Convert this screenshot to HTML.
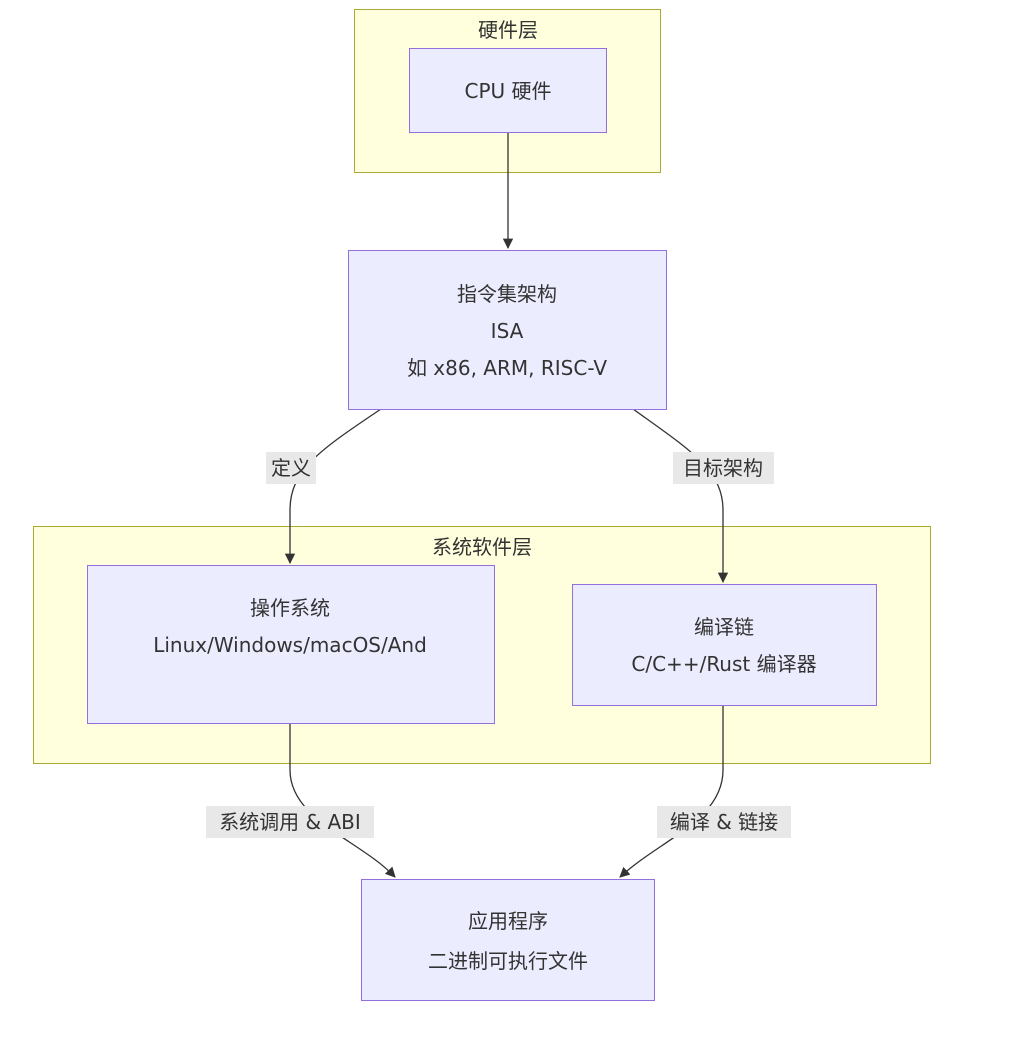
<!DOCTYPE html>
<html><head><meta charset="utf-8"><style>
html,body{margin:0;padding:0;background:#fff;}
svg text{font-family:"DejaVu Sans","Liberation Sans","Noto Sans CJK SC",sans-serif;font-size:20px;fill:#333;text-anchor:middle;dominant-baseline:central;}
</style></head><body>
<svg width="1024" height="1055" viewBox="0 0 1024 1055" xmlns="http://www.w3.org/2000/svg">
<defs><marker id="a" viewBox="0 0 10 10" refX="9" refY="5" markerWidth="8" markerHeight="8" orient="auto"><path d="M0,0L10,5L0,10z" fill="#333"/></marker></defs>
<rect x="354.5" y="9.5" width="306" height="163" fill="#ffffde" stroke="#aaaa33"/>
<text x="508" y="30">硬件层</text>
<rect x="33.5" y="526.5" width="897" height="237" fill="#ffffde" stroke="#aaaa33"/>
<text x="482" y="547">系统软件层</text>

<g fill="none" stroke="#333" stroke-width="1.3">
<path d="M508,132 L508,248" marker-end="url(#a)"/>
<path d="M381,409 C320,450 290,470 290,510 L290,563" marker-end="url(#a)"/>
<path d="M633,409 C690,450 723,470 723,510 L723,582" marker-end="url(#a)"/>
<path d="M290,723 L290,770 C290,820 360,840 395,877" marker-end="url(#a)"/>
<path d="M723,705 L723,770 C723,820 660,840 620,877" marker-end="url(#a)"/>
</g>

<rect x="409.5" y="48.5" width="197" height="84" fill="#ececff" stroke="#9370db"/>
<text x="508" y="91">CPU 硬件</text>
<rect x="348.5" y="250.5" width="318" height="159" fill="#ececff" stroke="#9370db"/>
<text x="507" y="294">指令集架构</text>
<text x="507" y="331">ISA</text>
<text x="507" y="368">如 x86, ARM, RISC-V</text>
<rect x="87.5" y="565.5" width="407" height="158" fill="#ececff" stroke="#9370db"/>
<text x="290" y="608">操作系统</text>
<text x="290" y="645">Linux/Windows/macOS/And</text>
<rect x="572.5" y="584.5" width="304" height="121" fill="#ececff" stroke="#9370db"/>
<text x="724" y="627">编译链</text>
<text x="724" y="664">C/C++/Rust 编译器</text>
<rect x="361.5" y="879.5" width="293" height="121" fill="#ececff" stroke="#9370db"/>
<text x="508" y="921">应用程序</text>
<text x="508" y="961">二进制可执行文件</text>

<rect x="266" y="452" width="50" height="32" fill="#e8e8e8"/>
<text x="291" y="468">定义</text>
<rect x="673" y="452" width="101" height="32" fill="#e8e8e8"/>
<text x="723" y="468">目标架构</text>
<rect x="206" y="806" width="168" height="32" fill="#e8e8e8"/>
<text x="290" y="822">系统调用 &amp; ABI</text>
<rect x="657" y="806" width="134" height="32" fill="#e8e8e8"/>
<text x="724" y="822">编译 &amp; 链接</text>
</svg>
</body></html>
